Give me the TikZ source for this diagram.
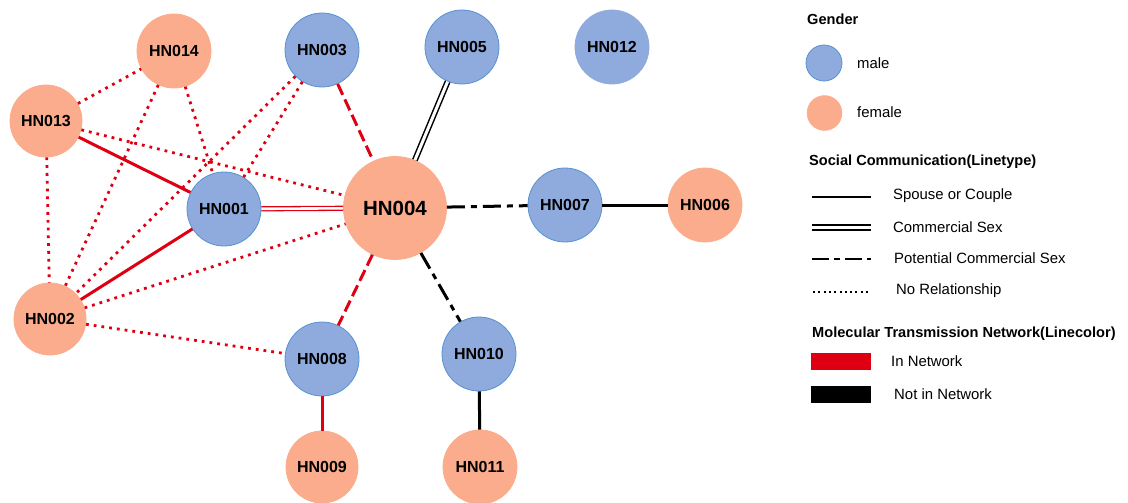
\documentclass[tikz,border=0pt]{standalone}
\usepackage{fontspec}
\setmainfont{Liberation Sans}
\definecolor{maleF}{RGB}{143,170,220}
\definecolor{maleB}{RGB}{86,146,210}
\definecolor{femF}{RGB}{250,172,140}
\definecolor{netred}{RGB}{222,0,18}
\begin{document}
\begin{tikzpicture}[x=1pt,y=-1pt,
  pnode/.style={circle,inner sep=0pt,minimum size=74pt,font=\bfseries\fontsize{16}{16}\selectfont},
  male/.style={pnode,draw=maleB,line width=0.8pt,fill=maleF},
  female/.style={pnode,draw=femF,line width=0.8pt,fill=femF},
  bignode/.style={minimum size=103pt,font=\bfseries\fontsize{20.5}{20.5}\selectfont},
  inred/.style={draw=netred},
  notin/.style={draw=black},
  spouse/.style={line width=3pt},
  comm/.style={line width=1.5pt,double=white,double distance=3pt},
  potcomm/.style={line width=3pt,dash pattern=on 18pt off 6pt on 6pt off 6pt},
  dashl/.style={line width=3pt,dash pattern=on 12pt off 5pt},
  dotl/.style={line width=2.8pt,dash pattern=on 2.8pt off 5pt},
  legtxt/.style={anchor=west,inner sep=0pt,font=\fontsize{14.9}{17}\selectfont},
  leghead/.style={anchor=west,inner sep=0pt,font=\bfseries\fontsize{14.6}{17}\selectfont},
]
\useasboundingbox (0,0) rectangle (1128,503);

% nodes
\node[female] (n14) at (174,51) {HN014};
\node[male] (n03) at (322,50) {HN003};
\node[male] (n05) at (462,47) {HN005};
\node[male,draw=maleF] (n12) at (612,47) {HN012};
\node[female,minimum size=72pt] (n13) at (46,121) {HN013};
\node[male] (n01) at (224,209) {HN001};
\node[female,bignode] (n04) at (395,208) {HN004};
\node[male] (n07) at (565,205) {HN007};
\node[female] (n06) at (705,205) {HN006};
\node[female,minimum size=72pt] (n02) at (50,319) {HN002};
\node[male] (n08) at (322,359) {HN008};
\node[male] (n10) at (479,354) {HN010};
\node[female,minimum size=72pt] (n09) at (322,467) {HN009};
\node[female] (n11) at (480,467) {HN011};

% edges: in network (red)
\draw[inred,dotl] (n13) -- (n14);
\draw[inred,dotl] (n13) -- (n04);
\draw[inred,dotl] (n13) -- (n02);
\draw[inred,spouse] (n13) -- (n01);
\draw[inred,dotl] (n14) -- (n01);
\draw[inred,dotl] (n14) -- (n02);
\draw[inred,dotl] (n03) -- (n01);
\draw[inred,dotl] (n03) -- (n02);
\draw[inred,dashl] (n03) -- (n04);
\draw[inred,comm,line width=1.3pt,double distance=2.6pt] (n01) -- (n04);
\draw[inred,spouse] (n02) -- (n01);
\draw[inred,dotl] (n02) -- (n04);
\draw[inred,dotl] (n02) -- (n08);
\draw[inred,dashl] (n04) -- (n08);
\draw[inred,spouse] (n08) -- (n09);
% edges: not in network (black)
\draw[notin,comm] (n04) -- (n05);
\draw[notin,potcomm] (n04) -- (n07);
\draw[notin,potcomm] (n04) -- (n10);
\draw[notin,spouse] (n07) -- (n06);
\draw[notin,spouse] (n10) -- (n11);

% legend
\node[leghead] (lgGender) at (807,19) {Gender};
\node[circle,inner sep=0pt,minimum size=36pt,draw=maleB,line width=0.8pt,fill=maleF] (lgMaleC) at (824,63) {};
\node[legtxt] (lgMale) at (857,63) {male};
\node[circle,inner sep=0pt,minimum size=35pt,draw=femF,fill=femF] (lgFemC) at (824.5,113) {};
\node[legtxt] (lgFem) at (857,112) {female};

\node[leghead] (lgSoc) at (809,162) {Social Communication(Linetype)};
\coordinate (s1a) at (812,196.5); \coordinate (s1b) at (871,196.5);
\draw[line width=2pt] (s1a) -- (s1b);
\node[legtxt] (lgSp) at (893,195.5) {Spouse or Couple};
\coordinate (s2a) at (812,227.5); \coordinate (s2b) at (871,227.5);
\draw[line width=1.8pt,double=white,double distance=3.2pt] (s2a) -- (s2b);
\node[legtxt] (lgCo) at (893,227) {Commercial Sex};
\coordinate (s3a) at (812,258.5); \coordinate (s3b) at (871,258.5);
\draw[line width=2pt,dash pattern=on 17pt off 5pt on 6pt off 5pt] (s3a) -- (s3b);
\node[legtxt] (lgPo) at (894,258) {Potential Commercial Sex};
\coordinate (s4a) at (813,291.5); \coordinate (s4b) at (871,291.5);
\draw[line width=2pt,dash pattern=on 2pt off 3.3pt] (s4a) -- (s4b);
\node[legtxt] (lgNo) at (896,291) {No Relationship};

\node[leghead] (lgMol) at (812,334) {Molecular Transmission Network(Linecolor)};
\node[draw=none,fill=netred,minimum width=60pt,minimum height=17pt,inner sep=0pt] (lgRed) at (841,361) {};
\node[legtxt] (lgIn) at (891,361) {In Network};
\node[draw=none,fill=black,minimum width=60pt,minimum height=17pt,inner sep=0pt] (lgBlk) at (841,394) {};
\node[legtxt] (lgNot) at (894,394) {Not in Network};
\end{tikzpicture}
\end{document}
